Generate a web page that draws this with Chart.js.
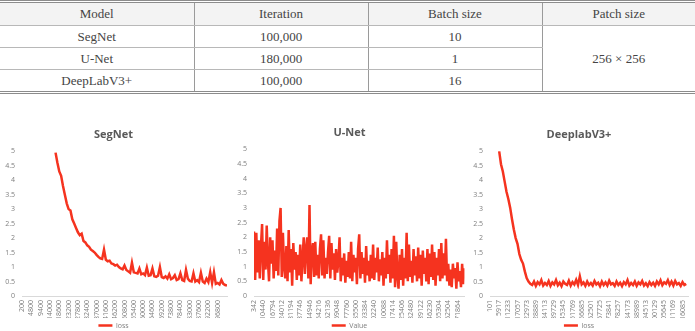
<!DOCTYPE html>
<html>
<head>
<meta charset="utf-8">
<script src="https://cdn.jsdelivr.net/npm/chart.js@4.4.1/dist/chart.umd.min.js"></script>
<style>
  html, body { margin: 0; padding: 0; background: #fff; }
  body { width: 695px; height: 331px; position: relative; overflow: hidden; }
  table {
    position: absolute; left: 0; top: 0; width: 695px;
    border-collapse: collapse; table-layout: fixed;
    font-family: "Liberation Serif", serif; font-size: 13px; color: #444;
    border-top: 3px double #8c8c8c; border-bottom: 3px double #8c8c8c;
  }
  th, td { text-align: center; padding: 0; border-left: 1px solid #9a9a9a; border-bottom: 1px solid #b8b8b8; }
  th:first-child, td:first-child { border-left: none; }
  th { font-weight: normal; background: #f3f3f3; height: 22px; }
  td { height: 21px; }
  canvas { position: absolute; }
</style>
</head>
<body>

<table>
  <colgroup><col style="width:194px"><col style="width:174px"><col style="width:174px"><col style="width:153px"></colgroup>
  <tr><th>Model</th><th>Iteration</th><th>Batch size</th><th>Patch size</th></tr>
  <tr><td>SegNet</td><td>100,000</td><td>10</td><td rowspan="3">256 × 256</td></tr>
  <tr><td>U-Net</td><td>180,000</td><td>1</td></tr>
  <tr><td>DeepLabV3+</td><td>100,000</td><td>16</td></tr>
</table>

<canvas id="segnet" width="232" height="219" style="left:0px;top:120px;width:232px;height:219px"></canvas>
<canvas id="unet" width="238" height="221" style="left:232px;top:118px;width:238px;height:221px"></canvas>
<canvas id="deeplab" width="229" height="219" style="left:466px;top:120px;width:229px;height:219px"></canvas>

<script>
// ── Data ─────────────────────────────────────────────────────
const RED  = "#f5331f";
const FONT = "'Open Sans', 'Noto Sans', sans-serif";

// SegNet: axis labels every 5 points, loss starts at point 18
const segTickLabels = [200, 4800, 9400, 14000, 18600, 23200, 27800, 32400, 37000, 41600, 46200,
  50800, 55400, 60000, 64600, 69200, 73800, 78400, 83000, 87600, 92200, 96800];
const segFirst = 18;
const segLoss = [
  4.95, 4.6, 4.3, 4.15, 3.8, 3.5, 3.2, 3.0, 2.95, 2.65,
  2.5, 2.35, 2.2, 2.1, 2.15, 1.9, 1.85, 1.75, 1.7, 1.6,
  1.55, 1.5, 1.42, 1.35, 1.3, 1.28, 1.6, 1.25, 1.2, 1.22,
  1.12, 1.1, 1.05, 1.08, 1.0, 0.95, 0.92, 1.05, 0.9, 0.85,
  0.8, 1.15, 0.82, 0.8, 0.78, 0.95, 0.75, 0.78, 0.72, 0.98,
  0.7, 0.72, 0.95, 0.68, 0.66, 0.7, 1.0, 0.65, 0.62, 0.68,
  0.6, 0.75, 0.58, 0.62, 0.72, 0.55, 0.58, 0.78, 0.55, 0.52,
  0.9, 0.6, 0.52, 0.5, 0.78, 0.5, 0.55, 0.48, 0.8, 0.5,
  0.45, 0.6, 0.48, 0.82, 0.45, 0.82, 0.42, 0.45, 0.4, 0.55,
  0.42, 0.38, 0.36
];

// U-Net: axis labels every 8 points
const unetTickLabels = [342, 10440, 16794, 24012, 31194, 37746, 44946, 54216, 62136, 69048, 77760,
  85500, 93384, 102240, 110088, 117414, 125406, 132480, 139122, 146230, 155304, 162504, 171864];
const unetFirst = 0;
const unetValue = [
  2.2, 0.55, 2.15, 0.8, 1.9, 0.6, 1.7, 2.45, 0.55, 1.85,
  0.9, 2.4, 1.2, 0.5, 2.0, 1.1, 1.9, 0.6, 1.55, 0.85,
  2.3, 0.7, 2.55, 3.0, 0.65, 2.15, 1.0, 0.6, 1.7, 0.5,
  2.25, 0.8, 1.6, 0.35, 1.8, 0.9, 1.5, 0.55, 1.4, 0.7,
  1.75, 0.5, 1.3, 2.0, 0.75, 1.6, 2.0, 0.6, 3.1, 0.4,
  1.5, 1.8, 0.65, 1.85, 0.7, 1.4, 0.6, 1.6, 2.1, 0.7,
  1.9, 0.6, 1.3, 0.75, 1.5, 2.05, 0.6, 1.8, 0.9, 1.45,
  0.55, 1.6, 0.8, 1.2, 2.0, 0.5, 1.3, 0.7, 1.45, 0.45,
  1.2, 0.65, 1.5, 0.6, 1.85, 0.5, 1.4, 0.8, 1.3, 0.4,
  1.6, 2.1, 0.6, 1.5, 0.75, 1.3, 0.45, 1.7, 0.7, 1.2,
  0.5, 1.4, 0.6, 1.75, 0.55, 1.3, 0.8, 1.65, 0.5, 1.25,
  0.7, 1.5, 0.35, 1.3, 0.6, 1.9, 0.75, 1.4, 0.45, 1.6,
  0.6, 2.05, 0.3, 1.85, 0.7, 0.25, 1.4, 0.55, 1.6, 0.35,
  1.3, 0.6, 2.15, 0.5, 1.75, 0.65, 1.2, 0.45, 1.6, 0.7,
  1.35, 0.5, 1.65, 0.6, 1.4, 0.35, 1.55, 0.75, 1.3, 0.5,
  1.6, 0.4, 1.45, 0.65, 1.75, 0.55, 1.5, 0.35, 1.3, 0.7,
  1.6, 0.5, 1.8, 0.6, 1.45, 0.7, 1.95, 0.5, 1.1, 0.35,
  0.9, 0.3, 1.1, 0.6, 0.95, 0.25, 1.15, 0.5, 0.85, 0.3,
  1.1, 0.4, 0.95
];

// DeeplabV3+: axis labels every 5 points, loss starts at point 5
const dlTickLabels = [101, 5917, 11233, 17057, 22973, 28889, 34113, 39729, 45345, 51769, 56685,
  62501, 67725, 73841, 78257, 84173, 88989, 94513, 100129, 105645, 111169, 116085];
const dlFirst = 5;
const dlLoss = [
  5.0, 4.55, 4.3, 3.95, 3.6, 3.35, 3.05, 2.65, 2.3, 2.0,
  1.8, 1.45, 1.25, 1.12, 0.85, 0.62, 0.5, 0.42,
  0.38, 0.5, 0.35, 0.48, 0.4, 0.55, 0.36, 0.45, 0.38, 0.52,
  0.35, 0.47, 0.4, 0.55, 0.37, 0.46, 0.34, 0.5, 0.42, 0.38,
  0.53, 0.36, 0.48, 0.4, 0.56, 0.38, 0.68, 0.4, 0.47, 0.35,
  0.5, 0.38, 0.45, 0.36, 0.52, 0.4, 0.46, 0.34, 0.5, 0.38,
  0.47, 0.36, 0.53, 0.4, 0.44, 0.35, 0.5, 0.38, 0.46, 0.34,
  0.48, 0.4, 0.55, 0.36, 0.45, 0.38, 0.5, 0.35, 0.47, 0.4,
  0.52, 0.36, 0.44, 0.34, 0.48, 0.38, 0.46, 0.35, 0.5, 0.4,
  0.54, 0.37, 0.47, 0.42, 0.55, 0.38, 0.5, 0.36, 0.52, 0.4,
  0.45, 0.35, 0.48, 0.38, 0.42
];

// ── Chart builder ────────────────────────────────────────────
function lossChart(id, title, seriesName, first, values, tickLabels, tickStep, xMax, yWidth, rightPad) {
  const points = values.map((v, i) => ({ x: first + i, y: v }));
  return new Chart(document.getElementById(id), {
    type: "line",
    data: {
      datasets: [{
        label: seriesName,
        data: points,
        borderColor: RED,
        backgroundColor: RED,
        borderWidth: 2.5,
        pointRadius: 0,
        tension: 0
      }]
    },
    options: {
      responsive: false,
      animation: false,
      layout: { padding: { left: 0, right: rightPad, top: 0, bottom: 0 } },
      plugins: {
        title: {
          display: true, text: title, color: "#595959",
          font: { size: 11, weight: "bold", family: FONT },
          padding: { top: 8, bottom: 10 }
        },
        legend: {
          position: "bottom",
          labels: {
            usePointStyle: true, pointStyle: "line", pointStyleWidth: 14,
            color: "#7f7f7f", font: { size: 7, family: FONT }, padding: 4
          }
        },
        tooltip: { enabled: false }
      },
      scales: {
        x: {
          type: "linear", min: 0, max: xMax,
          afterBuildTicks: s => { s.ticks = tickLabels.map((t, i) => ({ value: i * tickStep })); },
          afterFit: s => { s.height = 22; },
          ticks: {
            autoSkip: false, maxRotation: 90, minRotation: 90, padding: 4,
            color: "#7f7f7f", font: { size: 7, family: FONT },
            callback: (v, i) => tickLabels[i]
          },
          grid: { display: false, drawTicks: false },
          border: { display: true, color: "#d9d9d9", width: 1 }
        },
        y: {
          min: 0, max: 5,
          ticks: {
            stepSize: 0.5, padding: 7, color: "#7f7f7f", font: { size: 7, family: FONT },
            callback: v => String(Math.round(v * 10) / 10)
          },
          grid: { display: false, drawTicks: false },
          border: { display: false },
          afterFit: s => { s.width = yWidth; }
        }
      }
    }
  });
}

// ── Init ─────────────────────────────────────────────────────
lossChart("segnet", "SegNet", "loss", segFirst, segLoss, segTickLabels, 5, 110, 22, 5);
lossChart("unet", "U-Net", "Value", unetFirst, unetValue, unetTickLabels, 8, 182, 22, 3);
lossChart("deeplab", "DeeplabV3+", "loss", dlFirst, dlLoss, dlTickLabels, 5, 108, 24, 3);
</script>
</body>
</html>
